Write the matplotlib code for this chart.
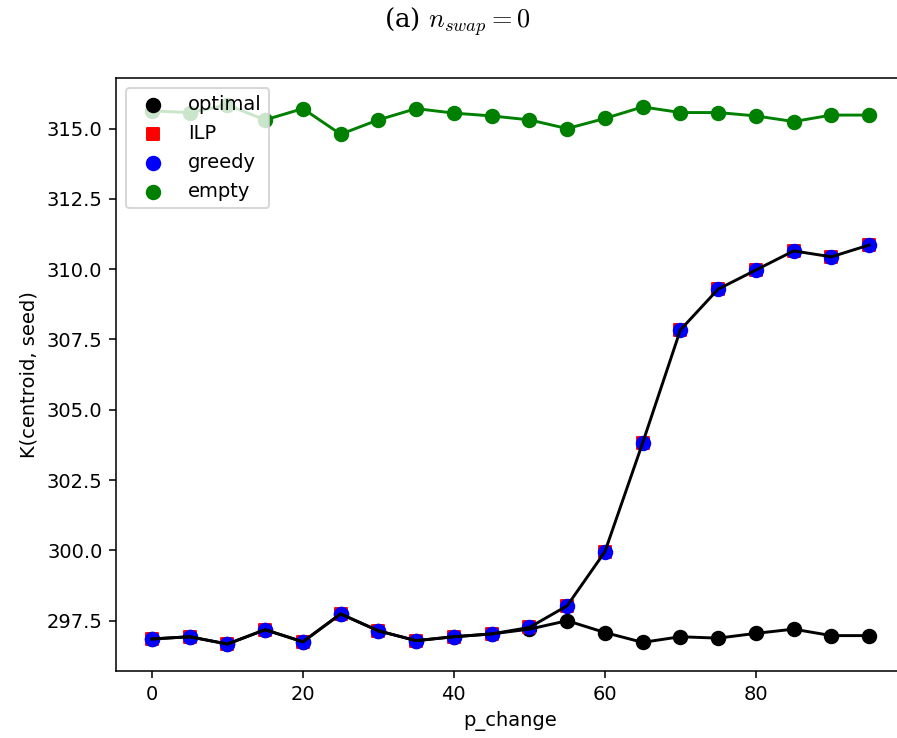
import numpy as np
import matplotlib.pyplot as plt

plt.rcParams['mathtext.fontset'] = 'cm'

p_change = [0, 5, 10, 15, 20, 25, 30, 35, 40, 45, 50, 55, 60, 65, 70, 75, 80, 85, 90, 95]

optimal = [296.85, 296.93, 296.67, 297.18, 296.75, 297.74, 297.14, 296.79, 296.93, 297.03,
           297.20, 297.50, 297.08, 296.73, 296.93, 296.88, 297.05, 297.20, 296.97, 296.97]
ilp = [296.85, 296.93, 296.67, 297.18, 296.75, 297.74, 297.14, 296.79, 296.93, 297.03,
       297.26, 298.03, 299.95, 303.82, 307.84, 309.29, 309.97, 310.65, 310.44, 310.86]
greedy = [296.85, 296.93, 296.67, 297.18, 296.75, 297.74, 297.14, 296.79, 296.93, 297.03,
          297.26, 298.03, 299.95, 303.82, 307.84, 309.29, 309.97, 310.65, 310.44, 310.86]
empty = [315.63, 315.57, 315.84, 315.31, 315.71, 314.80, 315.31, 315.71, 315.55, 315.45,
         315.31, 315.00, 315.36, 315.77, 315.57, 315.57, 315.45, 315.25, 315.48, 315.48]

fig = plt.figure(figsize=(897 / 140, 738 / 140), dpi=140)
ax = fig.add_axes([116 / 897, 1 - 671 / 738, (905 - 116) / 897, (671 - 78) / 738])

ax.scatter(p_change, optimal, c='black', s=48, label='optimal')
ax.scatter(p_change, ilp, c='red', marker='s', s=36, label='ILP')
ax.scatter(p_change, greedy, c='blue', s=48, label='greedy')
ax.scatter(p_change, empty, c='green', s=48, label='empty')

ax.plot(p_change, optimal, color='black')
ax.plot(p_change, greedy, color='black')
ax.plot(p_change, empty, color='green')

ax.spines['right'].set_visible(False)
ax.set_xlabel('p_change')
ax.set_ylabel('K(centroid, seed)')
ax.legend(loc='upper left')

fig.text(457 / 897, 1 - 22 / 738, r'(a) $n_{swap} = 0$', ha='center', va='center',
         fontsize=13.5, family='DejaVu Serif')

plt.savefig('out.png', dpi=140)
